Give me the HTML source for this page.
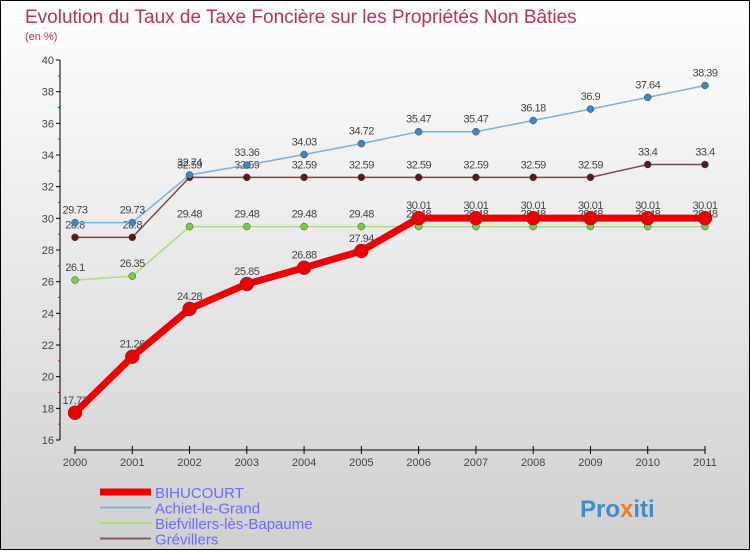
<!DOCTYPE html>
<html><head><meta charset="utf-8"><style>
body{margin:0}
svg text{font-family:"Liberation Sans",sans-serif}
</style></head><body>
<svg id="c" width="750" height="550" xmlns="http://www.w3.org/2000/svg">
<defs><linearGradient id="bg" x1="0" y1="0" x2="0" y2="1"><stop offset="0" stop-color="#ffffff"/><stop offset="1" stop-color="#d0d0d0"/></linearGradient></defs>
<rect x="0.5" y="0.5" width="749" height="549" fill="url(#bg)" stroke="#000"/>
<text x="25" y="23" font-size="19" fill="#c0305a">Evolution du Taux de Taxe Foncière sur les Propriétés Non Bâties</text>
<text x="25" y="40" font-size="11" fill="#c0305a">(en %)</text>
<line x1="60" y1="60" x2="60" y2="440" stroke="#000"/>
<line x1="75" y1="450" x2="705" y2="450" stroke="#000"/>
<g id="axes"></g><g id="series"></g><g id="legend"></g>
<text x="580" y="517" font-size="24" font-weight="bold" fill="#3a8fd0">Pro<tspan fill="#f08020">x</tspan>iti</text>
</svg>
<script>
const years=["2000","2001","2002","2003","2004","2005","2006","2007","2008","2009","2010","2011"];
const yTicks=[16,18,20,22,24,26,28,30,32,34,36,38,40];
const bihucourt=[17.72,21.26,24.28,25.85,26.88,27.94,30.01,30.01,30.01,30.01,30.01,30.01];
const achiet=[29.73,29.73,32.74,33.36,34.03,34.72,35.47,35.47,36.18,36.9,37.64,38.39];
const biefvillers=[26.1,26.35,29.48,29.48,29.48,29.48,29.48,29.48,29.48,29.48,29.48,29.48];
const grevillers=[28.8,28.8,32.59,32.59,32.59,32.59,32.59,32.59,32.59,32.59,33.4,33.4];
const NS="http://www.w3.org/2000/svg";
const xS=i=>75+i*(630/11);
const yS=v=>440-(v-16)*(380/24);
function mk(t,a,p){const e=document.createElementNS(NS,t);for(const k in a)e.setAttribute(k,a[k]);p.appendChild(e);return e;}
const ax=document.getElementById('axes');
yTicks.forEach(v=>{
 const l=mk('line',{x1:56,x2:60,y1:yS(v),y2:yS(v),stroke:'#000'},ax);
 
 
 const t=mk('text',{x:54,y:yS(v)+4,'font-size':11,'text-anchor':'end',fill:'#444'},ax);t.textContent=v;
 
 
 if(v<40){const m=mk('line',{x1:58,x2:60,y1:yS(v+1),y2:yS(v+1),stroke:'#e00'},ax);
 
 }
});
years.forEach((y,i)=>{
 const l=mk('line',{x1:xS(i),x2:xS(i),y1:446,y2:454,stroke:'#000'},ax);
 
 
 const t=mk('text',{x:xS(i),y:466,'font-size':11,'text-anchor':'middle',fill:'#444'},ax);t.textContent=y;
 
 
});
const S=document.getElementById('series');
const defs=[
 ['grevillers',grevillers,'#7a4a4a','#5a1a1a',1.5,3.5],
 ['biefvillers',biefvillers,'#a8dd80','#7acc40',1.5,3.5],
 ['achiet',achiet,'#7fb0d8','#3a88c8',1.5,3.5],
 ['bihucourt',bihucourt,'#ee0000','#ee0000',7,7]];
defs.forEach(([n,d,lc,pc,w,r])=>{
 const p=mk('polyline',{points:d.map((v,i)=>xS(i)+','+yS(v)).join(' '),fill:'none',stroke:lc,'stroke-width':w},S);
 
 
 d.forEach((v,i)=>{
  const c=mk('circle',{cx:xS(i),cy:yS(v),r:r,fill:pc,stroke:'#444','stroke-width':0.5},S);
  
  
  const t=mk('text',{x:xS(i),y:yS(v)-9,'font-size':11,'text-anchor':'middle',fill:'#444','letter-spacing':'-0.5'},S);t.textContent=v;
  
  
 });
});
const L=document.getElementById('legend');
[['BIHUCOURT','#ee0000',7],['Achiet-le-Grand','#7fb0d8',2],['Biefvillers-lès-Bapaume','#a8dd80',2],['Grévillers','#8a5a5a',2]].forEach(([n,c,w],i)=>{
 const y=492+i*15.5;
 const l=mk('line',{x1:100,x2:151,y1:y,y2:y,stroke:c,'stroke-width':w},L);
 
 
 const t=mk('text',{x:155,y:y+6,'font-size':15,fill:'#6a6aff'},L);t.textContent=n;
 
 
});
</script>
</body></html>
